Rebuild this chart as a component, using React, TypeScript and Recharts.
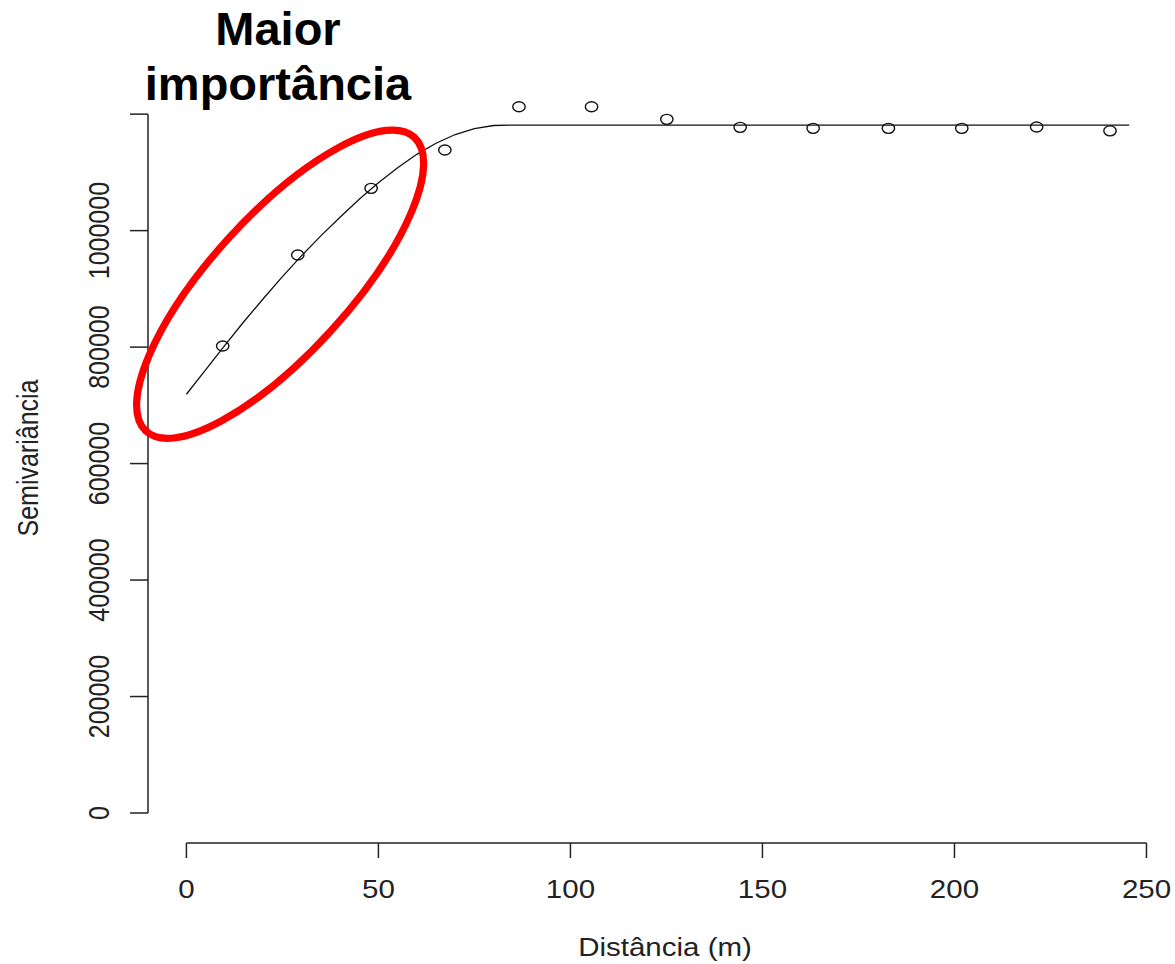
import React from 'react';
import {
  ComposedChart,
  Line,
  Scatter,
  XAxis,
  YAxis,
  ReferenceLine,
  ReferenceDot,
} from 'recharts';

// Empirical semivariogram points (distance, semivariance)
const pointDist = [9.45, 29.0, 48.1, 67.3, 86.6, 105.5, 125.1, 144.2, 163.2, 182.8, 201.9, 221.4, 240.5];
const pointGamma = [801900, 958100, 1072600, 1138400, 1212700, 1212700, 1191100, 1177300, 1175600, 1175600, 1175600, 1177900, 1171300];

// Fitted model curve
const curveDist = [0, 5, 10, 15, 20, 25, 30, 35, 40, 45, 50, 55, 60, 65, 70, 75, 80, 85, 245.5];
const curveGamma = [719000, 761000, 803000, 844000, 883000, 921000, 957000, 991000, 1023000, 1054000, 1082000, 1108000, 1131000, 1150000, 1165000, 1175000, 1180500, 1181300, 1181300];

const xTicks = [0, 50, 100, 150, 200, 250];
const xTickLabels = ['0', '50', '100', '150', '200', '250'];
const yTicks = [0, 200000, 400000, 600000, 800000, 1000000, 1200000];
const yTickLabels = ['0', '200000', '400000', '600000', '800000', '1000000', ''];

// Annotation ellipse centre (data coordinates)
const highlightCenter = { h: 24.4, v: 908000 };

const titleLines = ['Maior', 'importância'];
const xTitle = 'Distância (m)';
const yTitle = 'Semivariância';

const points = pointDist.map((h, i) => ({ h, v: pointGamma[i] }));
const curve = curveDist.map((h, i) => ({ h, v: curveGamma[i] }));

const FONT = '"Liberation Sans", Arial, Helvetica, sans-serif';
const SX = 1.18;
const TXT = '#222';

const XTick = (props: any) => {
  const { x, y, payload } = props;
  const idx = xTicks.indexOf(payload.value);
  return (
    <g transform={`translate(${x},${y + 38}) scale(${SX},1)`}>
      <text x={0} y={0} textAnchor="middle" fontSize={25} fill={TXT} fontFamily={FONT}>
        {idx >= 0 ? xTickLabels[idx] : payload.value}
      </text>
    </g>
  );
};

const YTick = (props: any) => {
  const { x, y, payload } = props;
  const idx = yTicks.indexOf(payload.value);
  const label = idx >= 0 ? yTickLabels[idx] : String(payload.value);
  if (!label) return null;
  return (
    <g transform={`translate(${x - 19},${y}) scale(${SX},1) rotate(-90)`}>
      <text x={0} y={0} textAnchor="middle" fontSize={25} fill={TXT} fontFamily={FONT}>
        {label}
      </text>
    </g>
  );
};

const XTitle = (props: any) => {
  const vb = props.viewBox || {};
  const cx = vb.x + vb.width / 2 + 12;
  return (
    <g transform={`translate(${cx},956) scale(${SX},1)`}>
      <text x={0} y={0} textAnchor="middle" fontSize={25} fill={TXT} fontFamily={FONT}>
        {xTitle}
      </text>
    </g>
  );
};

const YTitle = () => {
  return (
    <g transform={`translate(38,458) scale(${SX},1) rotate(-90)`}>
      <text x={0} y={0} textAnchor="middle" fontSize={25} fill={TXT} fontFamily={FONT}>
        {yTitle}
      </text>
    </g>
  );
};

const Circle = (props: any) => {
  const { cx, cy } = props;
  if (cx == null || cy == null) return null;
  return <ellipse cx={cx} cy={cy} rx={6.2} ry={5} fill="none" stroke="#111" strokeWidth={1.4} />;
};

const RedEllipse = (props: any) => {
  const { cx, cy } = props;
  if (cx == null || cy == null) return null;
  return (
    <ellipse
      cx={cx}
      cy={cy}
      rx={199}
      ry={69}
      fill="none"
      stroke="#ff0000"
      strokeWidth={7.2}
      transform={`rotate(-47.6 ${cx} ${cy})`}
    />
  );
};

export default function App() {
  return (
    <div style={{ position: 'absolute', left: 0, top: 0, width: 1175, height: 964, background: '#fff' }}>
      <ComposedChart
        width={1175}
        height={964}
        margin={{ top: 99, right: 17, bottom: 0, left: 0 }}
      >
        <XAxis
          type="number"
          dataKey="h"
          domain={[-10, 253]}
          allowDataOverflow
          ticks={xTicks}
          interval={0}
          height={121}
          axisLine={false}
          tickSize={15}
          tickLine={{ stroke: '#222', strokeWidth: 1.5 }}
          tick={<XTick />}
          label={<XTitle />}
        />
        <YAxis
          type="number"
          dataKey="v"
          domain={[-51500, 1226000]}
          allowDataOverflow
          ticks={yTicks}
          interval={0}
          width={148}
          axisLine={false}
          tickSize={18}
          tickLine={{ stroke: '#222', strokeWidth: 1.5 }}
          tick={<YTick />}
          label={<YTitle />}
        />
        <ReferenceLine
          segment={[{ x: 0, y: -51500 }, { x: 250, y: -51500 }]}
          stroke="#222"
          strokeWidth={1.5}
          ifOverflow="visible"
        />
        <ReferenceLine
          segment={[{ x: -10, y: 0 }, { x: -10, y: 1200000 }]}
          stroke="#222"
          strokeWidth={1.5}
          ifOverflow="visible"
        />
        <Line
          data={curve}
          dataKey="v"
          type="linear"
          stroke="#111"
          strokeWidth={1.3}
          dot={false}
          activeDot={false}
          isAnimationActive={false}
        />
        <Scatter data={points} dataKey="v" shape={<Circle />} isAnimationActive={false} />
        <ReferenceDot
          x={highlightCenter.h}
          y={highlightCenter.v}
          ifOverflow="visible"
          shape={<RedEllipse />}
        />
      </ComposedChart>
      <div
        style={{
          position: 'absolute',
          left: 0,
          top: 1,
          width: 556,
          textAlign: 'center',
          fontFamily: FONT,
          fontWeight: 'bold',
          fontSize: 47,
          lineHeight: '55px',
          color: '#000',
        }}
      >
        {titleLines.map((t) => (
          <div key={t}>{t}</div>
        ))}
      </div>
    </div>
  );
}
